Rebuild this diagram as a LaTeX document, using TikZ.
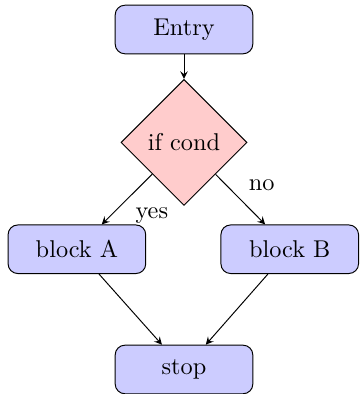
\documentclass[tikz,border=0pt]{standalone}
\usepackage{tikz}
\usetikzlibrary{shapes.geometric}
\usetikzlibrary{arrows.meta}

\begin{document}
\begin{tikzpicture}[>=stealth,
		block/.style={rectangle, draw, fill=blue!20, text width=5em, align=center, rounded corners, minimum height=2em},
		decision/.style={diamond, draw, fill=red!20, inner sep=3.75pt}]
			\useasboundingbox (-2.663,0.427) rectangle (2.533,-5.275);
			% Draw the nodes
			\node[block] (entry) at (0,0) {Entry};
			\node[decision] (cond) at (0,-1.635) {if cond};
			\node[block] (blockA) at (-1.55,-3.18) {block A};
			\node[block] (blockB) at (1.53,-3.18) {block B};
			\node[block] (stop) at (0,-4.92) {stop};
			% Draw the edges
			\draw[->] (entry) -- (cond);
			\draw[->] (cond) -- node[midway, auto] {yes} (blockA);
			\draw[->] (cond) -- node[midway, auto] {no} (blockB);
			\foreach \b in {blockA, blockB}{
				\draw[->] (\b) -- (stop);
			}
		\end{tikzpicture}
\end{document}
